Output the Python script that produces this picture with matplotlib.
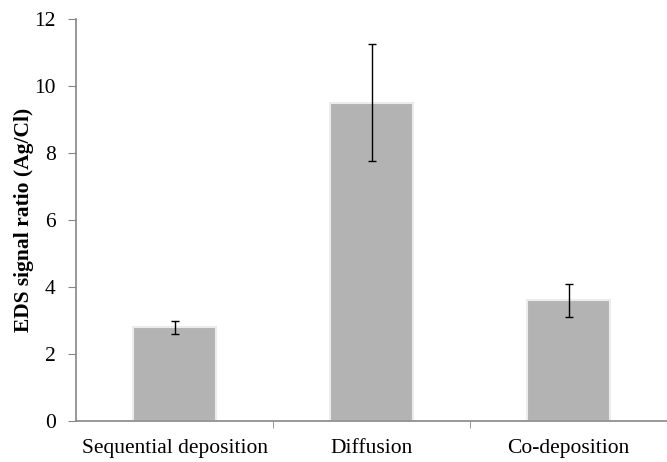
import matplotlib.pyplot as plt

plt.rcParams['font.family'] = ['Liberation Serif', 'DejaVu Serif']

methods = ['Sequential deposition', 'Diffusion', 'Co-deposition']
ratios = [2.8, 9.5, 3.6]
errors = [0.2, 1.75, 0.5]

fig = plt.figure(figsize=(6.67, 4.62), dpi=100)
ax = fig.add_axes([76 / 667, 41 / 462, 591 / 667, 402 / 462])

x = range(len(methods))
ax.bar(x, ratios, width=0.42, color='#b3b3b3', edgecolor='#ececec', linewidth=1.5,
       yerr=errors, error_kw=dict(ecolor='black', elinewidth=1, capsize=3, capthick=1))

ax.set_xlim(-0.5, 2.5)
ax.set_ylim(0, 12)
ax.set_yticks(range(0, 13, 2))
ax.set_xticks(x)
ax.set_xticklabels(methods)
ax.set_xticks([0.5, 1.5], minor=True)
ax.tick_params(axis='x', which='major', length=0, labelsize=15.5, pad=13)
ax.tick_params(axis='x', which='minor', length=5, color='#868686')
ax.tick_params(axis='y', length=5.5, color='#868686', labelsize=15.5, pad=9)
ax.set_ylabel('EDS signal ratio (Ag/Cl)', fontsize=15.5, fontweight='bold', labelpad=0.5)

for side in ['top', 'right']:
    ax.spines[side].set_visible(False)
for side in ['left', 'bottom']:
    ax.spines[side].set_color('#868686')
    ax.spines[side].set_linewidth(1.2)

fig.savefig('out.png', dpi=100)
